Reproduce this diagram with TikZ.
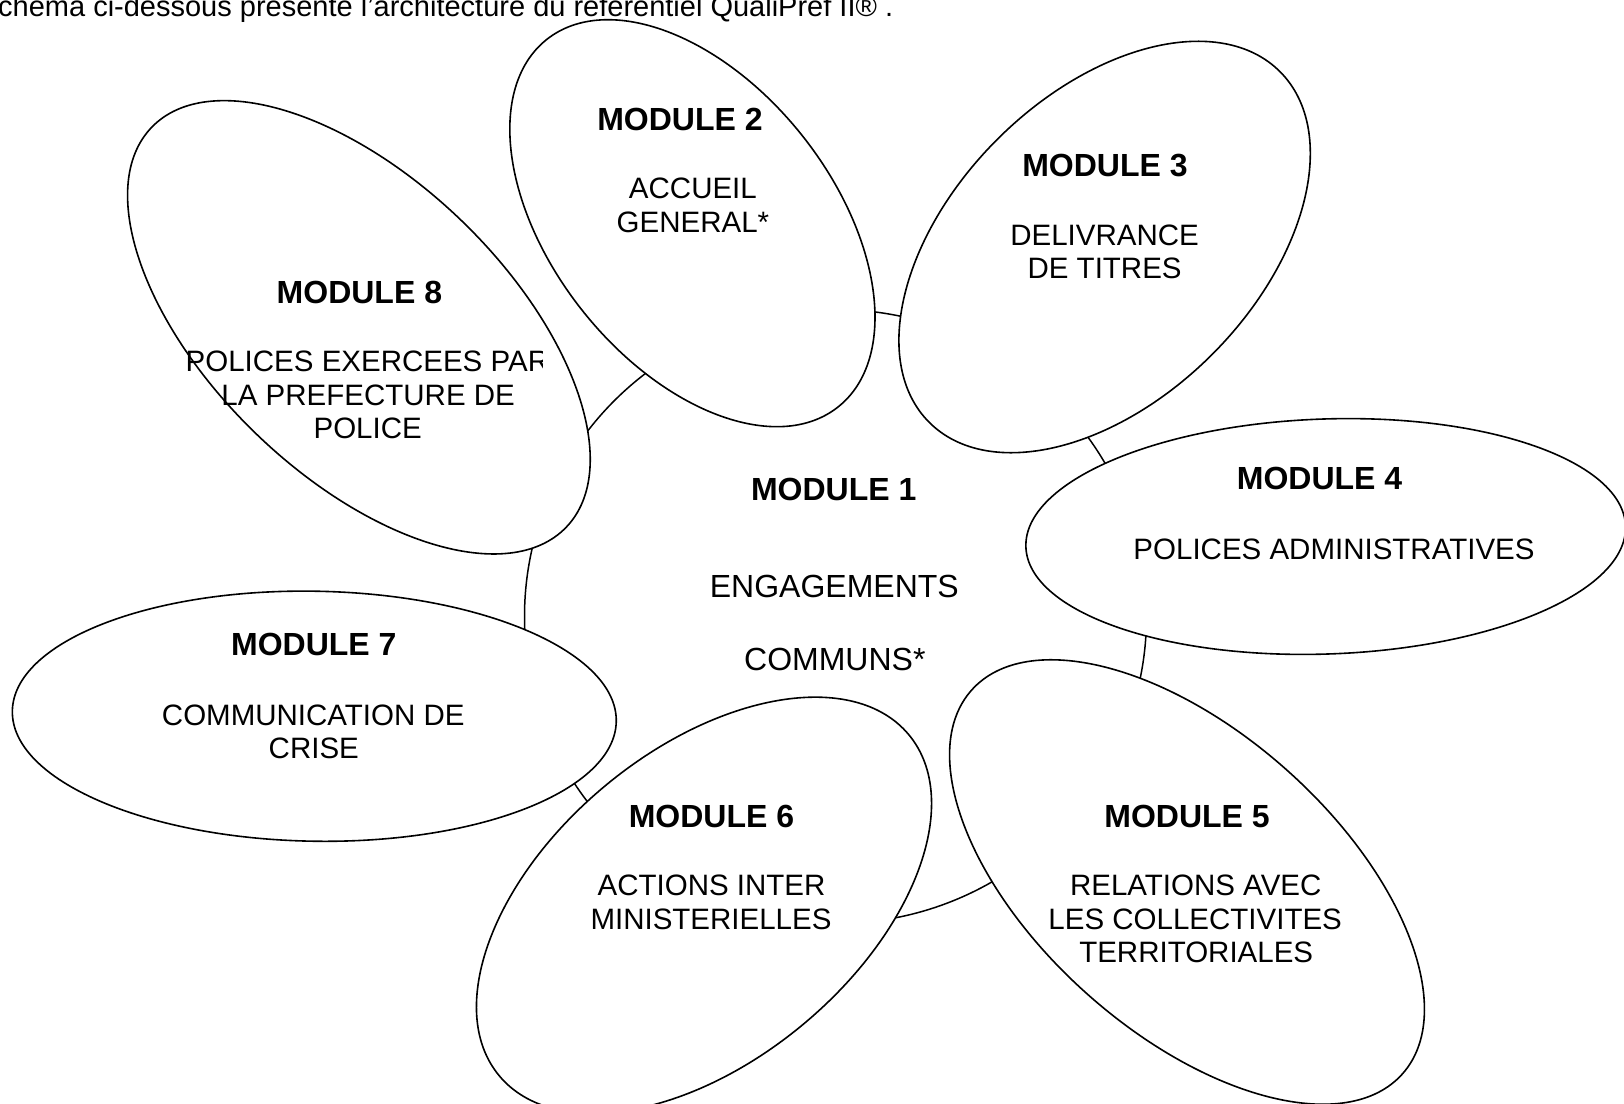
\documentclass[tikz,border=0pt]{standalone}
\usepackage{fontspec}
\setmainfont{Liberation Sans}
\usetikzlibrary{shapes.geometric}

\tikzset{
  petal/.style={draw=black, ellipse, fill=white, line width=1.6pt, inner sep=0pt},
  hub/.style={draw=black, ellipse, line width=1.5pt, inner sep=0pt},
  modtitle/.style={anchor=base, inner sep=0pt, font=\fontsize{32}{36}\selectfont\bfseries},
  modtext/.style={anchor=base, inner sep=0pt, font=\fontsize{29.5}{33}\selectfont},
  hubtext/.style={modtext, font=\fontsize{32}{36}\selectfont},
}

\begin{document}
\begin{tikzpicture}[x=1pt,y=-1pt]
	\useasboundingbox (0,0) rectangle (1624,1103);
	\clip (0,0) rectangle (1624,1103);
	% heading, cut by the page edge
	\node [modtext, font=\fontsize{29}{33}\selectfont, anchor=base west] (intro) at (-2,16.5) {chéma ci-dessous présente l'architecture du référentiel QualiPref II® .};
	% module 1 sits behind the petals
	\node [hub, minimum width=622pt, minimum height=614pt] (mod1) at (835.5,616.5) {};
	\node [petal, minimum width=469pt, minimum height=281pt, rotate=-51.6] (mod2) at (692.4,223.2) {};
	\node [petal, minimum width=496pt, minimum height=304pt, rotate=45] (mod3) at (1104.6,247) {};
	\node [petal, minimum width=600pt, minimum height=235pt, rotate=2] (mod4) at (1325.7,536.5) {};
	\node [petal, minimum width=577pt, minimum height=300pt, rotate=-41.7] (mod5) at (1187,882) {};
	\node [petal, minimum width=533pt, minimum height=310pt, rotate=39.8] (mod6) at (704,905.2) {};
	\node [petal, minimum width=604pt, minimum height=250pt, rotate=-1] (mod7) at (314.3,716.2) {};
	\node [petal, minimum width=576pt, minimum height=296pt, rotate=-44] (mod8) at (358.9,327.3) {};
	% texts
	\node [modtitle] (mod1title) at (833.7,500.2) {MODULE 1};
	\node [hubtext] (mod1a) at (834.3,597.6) {ENGAGEMENTS};
	\node [hubtext] (mod1b) at (834.8,670.1) {COMMUNS*};
	\node [modtitle] (mod2title) at (680,130.5) {MODULE 2};
	\node [modtext] (mod2a) at (692.9,198.9) {ACCUEIL};
	\node [modtext] (mod2b) at (692.9,232) {GENERAL*};
	\node [modtitle] (mod3title) at (1105,176) {MODULE 3};
	\node [modtext] (mod3a) at (1104.6,245.5) {DELIVRANCE};
	\node [modtext] (mod3b) at (1104.6,278.6) {DE TITRES};
	\node [modtitle] (mod4title) at (1319.5,489.9) {MODULE 4};
	\node [modtext] (mod4a) at (1334,559.3) {POLICES ADMINISTRATIVES};
	\node [modtitle] (mod5title) at (1187,827.5) {MODULE 5};
	\node [modtext] (mod5a) at (1195.7,895.9) {RELATIONS AVEC};
	\node [modtext] (mod5b) at (1195.2,929) {LES COLLECTIVITES};
	\node [modtext] (mod5c) at (1196.2,962.2) {TERRITORIALES};
	\node [modtitle] (mod6title) at (711.5,827.5) {MODULE 6};
	\node [modtext] (mod6a) at (711.5,895.9) {ACTIONS INTER};
	\node [modtext] (mod6b) at (711,929) {MINISTERIELLES};
	\node [modtitle] (mod7title) at (313.8,655.6) {MODULE 7};
	\node [modtext] (mod7a) at (313.3,725) {COMMUNICATION DE};
	\node [modtext] (mod7b) at (313.8,758.1) {CRISE};
	\node [modtitle] (mod8title) at (359.4,303.5) {MODULE 8};
	\begin{scope}
		\clip (0,0) rectangle (542,1103);
		\node [modtext] (mod8a) at (367.4,371.8) {POLICES EXERCEES PAR};
	\end{scope}
	\node [modtext] (mod8b) at (368.2,405) {LA PREFECTURE DE};
	\node [modtext] (mod8c) at (367.7,438.1) {POLICE};
\end{tikzpicture}
\end{document}
